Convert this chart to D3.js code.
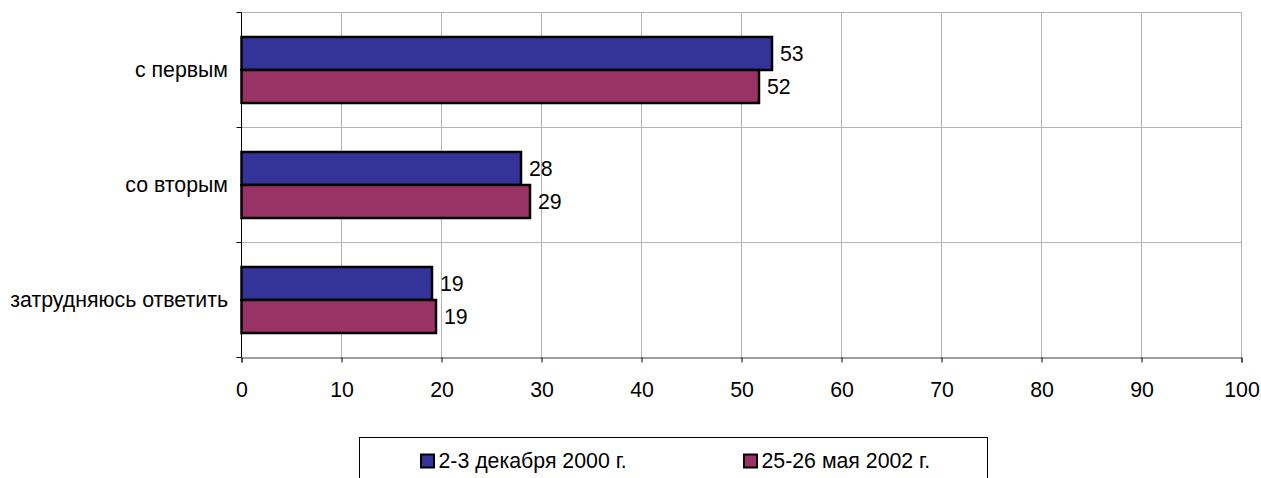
<!DOCTYPE html>
<html><head><meta charset="utf-8">
<script src="https://cdn.jsdelivr.net/npm/d3@7"></script>
<style>body{margin:0;background:#fff;}svg{display:block;font-family:"Liberation Sans",Arial,sans-serif;}</style>
</head><body>
<script>
const categories = ["с первым", "со вторым", "затрудняюсь ответить"];
const seriesNames = ["2-3 декабря 2000 г.", "25-26 мая 2002 г."];
const seriesA = [53.05, 27.95, 19.05];
const seriesB = [51.75, 28.85, 19.45];
const labelsA = ["53", "28", "19"];
const labelsB = ["52", "29", "19"];
const xTicks = [0,10,20,30,40,50,60,70,80,90,100];
const colors = ["#333399", "#993366"];

(function(){
const W = 1261, H = 478, FS = 21.3;
const svg = d3.select("body").append("svg").attr("width", W).attr("height", H);
const pL = 241.5, pR = 1241.5, pT = 12.5, pB = 357.5;

const x = d3.scaleLinear().domain([0,100]).range([pL, pR]);
const yBand = d3.scaleBand().domain(categories).range([pT, pB]).padding(0);
const ySub = d3.scaleBand().domain([0,1]).range([0, yBand.bandwidth()]).paddingInner(0).paddingOuter(0.742);

// gridlines
const g = svg.append("g");
g.selectAll(".vg").data(xTicks.slice(1)).join("line")
  .attr("x1", d=>x(d)).attr("x2", d=>x(d)).attr("y1", pT).attr("y2", pB)
  .attr("stroke", "#b3b3b3").attr("stroke-width", 1);
const bounds = [pT].concat(categories.slice(1).map(c=>yBand(c)));
g.selectAll(".hg").data(bounds).join("line")
  .attr("x1", pL).attr("x2", pR).attr("y1", d=>d).attr("y2", d=>d)
  .attr("stroke", "#b3b3b3").attr("stroke-width", 1);

// bars
const data = categories.map((c,i)=>({c, vals:[seriesA[i], seriesB[i]], labels:[labelsA[i], labelsB[i]]}));
data.forEach(d=>{
  d.vals.forEach((v,j)=>{
    const yy = yBand(d.c) + ySub(j);
    svg.append("rect").attr("x", x(0)).attr("y", yy).attr("width", x(v)-x(0)).attr("height", ySub.bandwidth())
      .attr("fill", colors[j]).attr("stroke", "#000").attr("stroke-width", 2.5);
    svg.append("text").attr("x", x(v)+8).attr("y", yy + ySub.bandwidth()/2).attr("dy", "0.35em")
      .attr("font-size", FS).attr("fill", "#000").text(d.labels[j]);
  });
});

// x axis
const xAxis = svg.append("g").attr("transform", `translate(0,${pB})`)
  .call(d3.axisBottom(x).tickValues(xTicks).tickSize(5).tickPadding(19));
xAxis.select(".domain").attr("stroke", "#404040");
xAxis.selectAll(".tick line").attr("stroke", "#000");
xAxis.selectAll("text").attr("font-size", FS).attr("font-family", "Liberation Sans, Arial, sans-serif").attr("fill","#000");

// y axis
const yAxisG = svg.append("g");
yAxisG.append("line").attr("x1", pL).attr("x2", pL).attr("y1", pT).attr("y2", pB).attr("stroke", "#000");
const tickYs = bounds.concat([pB]);
yAxisG.selectAll(".yt").data(tickYs).join("line")
  .attr("x1", pL-5).attr("x2", pL).attr("y1", d=>d).attr("y2", d=>d).attr("stroke", "#000");
yAxisG.selectAll(".yl").data(categories).join("text")
  .attr("x", 228).attr("y", d=>yBand(d)+ySub(1)).attr("dy", "0.35em")
  .attr("text-anchor", "end").attr("font-size", FS).attr("fill", "#000").text(d=>d);

// legend
const lg = svg.append("g");
lg.append("rect").attr("x", 359.5).attr("y", 437.5).attr("width", 628).attr("height", 60)
  .attr("fill", "#fff").attr("stroke", "#000").attr("stroke-width", 1);
const legX = [421, 744];
seriesNames.forEach((n,i)=>{
  lg.append("rect").attr("x", legX[i]).attr("y", 454.5).attr("width", 13).attr("height", 13)
    .attr("fill", colors[i]).attr("stroke", "#000").attr("stroke-width", 2);
  lg.append("text").attr("x", legX[i]+17.5).attr("y", 461).attr("dy", "0.35em")
    .attr("font-size", FS).attr("fill", "#000").text(n);
});
})();
</script>
</body></html>
